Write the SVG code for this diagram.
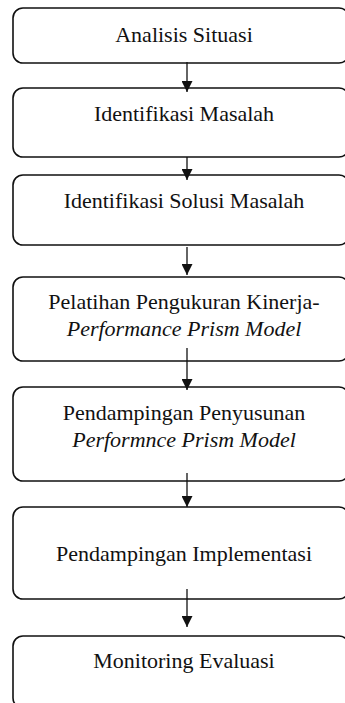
<svg xmlns="http://www.w3.org/2000/svg" width="345" height="703" viewBox="0 0 345 703">
<style>
.box{fill:#fff;stroke:#111;stroke-width:1.6}
.t{font-family:"Liberation Serif","Times New Roman",serif;font-size:22px;fill:#111;text-anchor:middle}
.i{font-style:italic}
.c{stroke:#111;stroke-width:1.3;fill:none}
</style>
<defs>
<marker id="ah" markerWidth="12" markerHeight="11" refX="11" refY="5.5" orient="auto" markerUnits="userSpaceOnUse">
<path d="M0,0 L11,5.5 L0,11 Z" fill="#111"/>
</marker>
</defs>
<rect width="345" height="703" fill="#fff"/>
<g id="n1"><rect class="box" x="13" y="8" width="336" height="55" rx="10"/><text class="t" x="184" y="42">Analisis Situasi</text></g>
<g id="n2"><rect class="box" x="13" y="88" width="336" height="69" rx="10"/><text class="t" x="184" y="121">Identifikasi Masalah</text></g>
<g id="n3"><rect class="box" x="13" y="175" width="336" height="70" rx="10"/><text class="t" x="184" y="208">Identifikasi Solusi Masalah</text></g>
<g id="n4"><rect class="box" x="13" y="277" width="336" height="84" rx="10"/><text class="t" x="184" y="309">Pelatihan Pengukuran Kinerja-</text><text class="t i" x="184" y="336">Performance Prism Model</text></g>
<g id="n5"><rect class="box" x="13" y="387" width="336" height="94" rx="10"/><text class="t" x="184" y="420">Pendampingan Penyusunan</text><text class="t i" x="184" y="447">Performnce Prism Model</text></g>
<g id="n6"><rect class="box" x="13" y="507" width="336" height="92" rx="10"/><text class="t" x="184" y="561">Pendampingan Implementasi</text></g>
<g id="n7"><rect class="box" x="13" y="636" width="336" height="72" rx="10"/><text class="t" x="184" y="668">Monitoring Evaluasi</text></g>
<g id="connectors">
<line class="c" x1="187" y1="62" x2="187" y2="92" marker-end="url(#ah)"/>
<line class="c" x1="187" y1="157" x2="187" y2="180" marker-end="url(#ah)"/>
<line class="c" x1="187" y1="247" x2="187" y2="275" marker-end="url(#ah)"/>
<line class="c" x1="187" y1="348" x2="187" y2="390" marker-end="url(#ah)"/>
<line class="c" x1="187" y1="473" x2="187" y2="507" marker-end="url(#ah)"/>
<line class="c" x1="187" y1="589" x2="187" y2="627" marker-end="url(#ah)"/>
</g>
</svg>
